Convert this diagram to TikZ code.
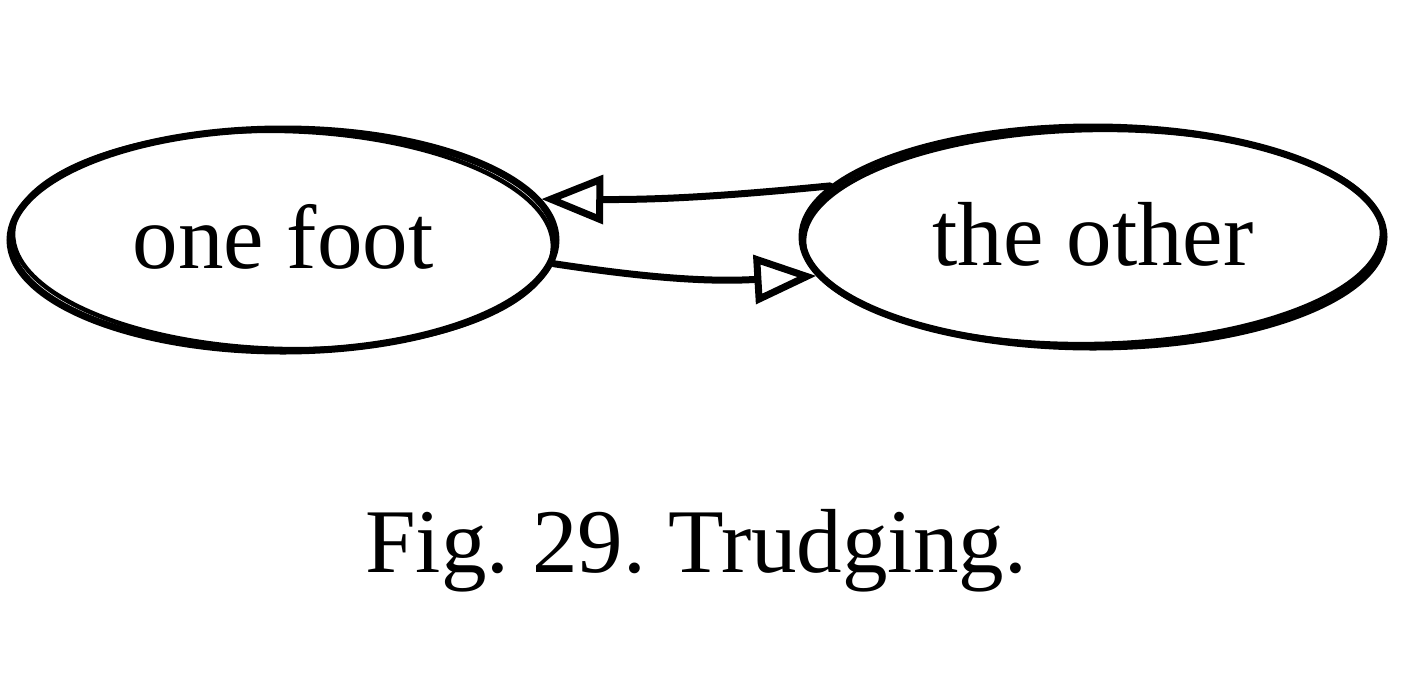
\documentclass[tikz,border=0pt]{standalone}
\usepackage{fontspec}
\setmainfont{Liberation Serif}
\usetikzlibrary{shapes.geometric,arrows.meta}
\tikzset{
  x=1pt,y=1pt,
  sketchnode/.style={ellipse, draw, line width=7pt, inner sep=0pt,
    font=\fontsize{91}{110}\selectfont, text height=64pt, text depth=8pt},
  sketchline/.style={line width=7pt, line cap=round},
  overstroke/.style={line width=4.5pt, line cap=round},
  opentip/.style={-{Triangle[open,length=62pt,width=48pt,line width=7pt]}},
  caption/.style={font=\fontsize{91}{110}\selectfont, inner sep=0pt}
}
\begin{document}
\frenchspacing
\begin{tikzpicture}
\useasboundingbox (0,0) rectangle (1406,-681);
% nodes
\node[sketchnode, minimum width=546pt, minimum height=222pt] (foot) at (283,-240) {one foot};
\node[sketchnode, minimum width=582pt, minimum height=220pt] (other) at (1093,-237) {the other};
% sketchy overstrokes of the outlines
\draw[overstroke, rotate around={-1.5:(foot.center)}] (foot.center) ellipse [x radius=270, y radius=109];
\draw[overstroke, rotate around={1:(other.center)}] (other.center) ellipse [x radius=289, y radius=107];
% connectors
\draw[sketchline, opentip] (other.169) to[bend left=3] (foot.9);
\draw[sketchline, opentip] (foot.-5) to[bend right=6] (other.188);
% caption
\node[caption, anchor=base] (cap) at (696,-572) {Fig. 29. Trudging.};
\end{tikzpicture}
\end{document}
